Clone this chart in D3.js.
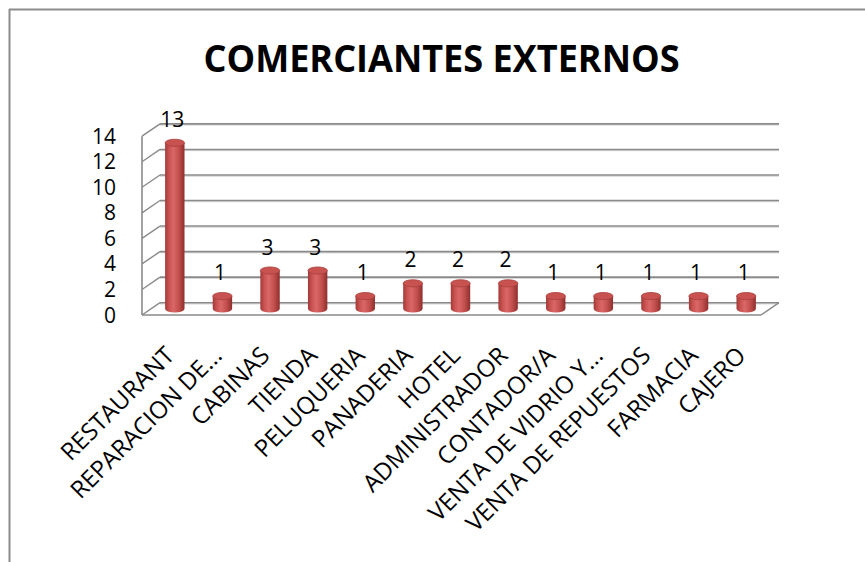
<!DOCTYPE html>
<html>
<head>
<meta charset="utf-8">
<script src="https://cdn.jsdelivr.net/npm/d3@7"></script>
<style>
  html, body { margin: 0; padding: 0; background: #fff; }
  svg { display: block; }
  text { font-family: "Open Sans", Lato, sans-serif; fill: #000; }
</style>
</head>
<body>
<svg id="chart" width="865" height="562"></svg>
<script>
// Chart data
const title = "COMERCIANTES EXTERNOS";
const categories = [
  "RESTAURANT", "REPARACION DE...", "CABINAS", "TIENDA", "PELUQUERIA",
  "PANADERIA", "HOTEL", "ADMINISTRADOR", "CONTADOR/A", "VENTA DE VIDRIO Y...",
  "VENTA DE REPUESTOS", "FARMACIA", "CAJERO"
];
const values = [13, 1, 3, 3, 1, 2, 2, 2, 1, 1, 1, 1, 1];
const yTicks = [0, 2, 4, 6, 8, 10, 12, 14];

const svg = d3.select("#chart");

// Frame (top and left edges of the chart area)
svg.append("line").attr("x1", 9).attr("y1", 9.5).attr("x2", 865).attr("y2", 9.5)
  .attr("stroke", "#8c8c8c").attr("stroke-width", 2);
svg.append("line").attr("x1", 9.5).attr("y1", 9).attr("x2", 9.5).attr("y2", 562)
  .attr("stroke", "#8c8c8c").attr("stroke-width", 2);

// Title
svg.append("text")
  .attr("x", 441.5).attr("y", 72)
  .attr("text-anchor", "middle")
  .attr("font-family", "Lato, 'Open Sans', sans-serif")
  .attr("font-weight", "bold")
  .attr("font-size", 38)
  .attr("textLength", 476)
  .attr("lengthAdjust", "spacingAndGlyphs")
  .text(title);

// 3D geometry: front plane scales plus a depth offset for the back wall
const depthX = 18, depthY = -12.3;
const x = d3.scaleBand().domain(categories).range([142, 761]).padding(0);
const y = d3.scaleLinear().domain([0, 14]).range([315, 136.2]);

const grid = svg.append("g").attr("fill", "none");
const gridColor = "#8a8a8a";

// Back wall gridlines and left wall diagonals
yTicks.forEach(t => {
  const yf = y(t), yb = y(t) + depthY;
  grid.append("line")
    .attr("x1", x.range()[0] + depthX).attr("y1", yb + 1.2)
    .attr("x2", x.range()[1] + depthX).attr("y2", yb + 1.2)
    .attr("stroke", "#d2d2d2").attr("stroke-width", 1);
  grid.append("line")
    .attr("x1", x.range()[0] + depthX).attr("y1", yb)
    .attr("x2", x.range()[1] + depthX).attr("y2", yb)
    .attr("stroke", gridColor).attr("stroke-width", 1.6);
  grid.append("line")
    .attr("x1", x.range()[0]).attr("y1", yf)
    .attr("x2", x.range()[0] + depthX).attr("y2", yb)
    .attr("stroke", gridColor).attr("stroke-width", 1.4);
});

// Vertical axis edge
grid.append("line")
  .attr("x1", x.range()[0]).attr("y1", y(0))
  .attr("x2", x.range()[0]).attr("y2", y(14))
  .attr("stroke", gridColor).attr("stroke-width", 1.6);

// Floor outline (front edge and right side)
grid.append("line")
  .attr("x1", x.range()[0]).attr("y1", y(0))
  .attr("x2", x.range()[1]).attr("y2", y(0))
  .attr("stroke", gridColor).attr("stroke-width", 1.6);
grid.append("line")
  .attr("x1", x.range()[1]).attr("y1", y(0))
  .attr("x2", x.range()[1] + depthX).attr("y2", y(0) + depthY)
  .attr("stroke", gridColor).attr("stroke-width", 1.4);

// Y axis labels
svg.append("g").selectAll("text").data(yTicks).join("text")
  .attr("x", 116)
  .attr("y", d => y(d))
  .attr("dy", "0.36em")
  .attr("text-anchor", "end")
  .attr("font-size", 21)
  .text(d => d);

// Cylinder shading
const defs = svg.append("defs");
const grad = defs.append("linearGradient").attr("id", "cyl")
  .attr("x1", "0%").attr("x2", "100%").attr("y1", "0%").attr("y2", "0%");
[["0%", "#a03a38"], ["20%", "#c95250"], ["42%", "#d96866"], ["70%", "#c4504e"], ["100%", "#8e2f2d"]]
  .forEach(([o, c]) => grad.append("stop").attr("offset", o).attr("stop-color", c));

const rx = 9.7, ry = 3.6;
const cx = d => x(d) + x.bandwidth() / 2 + depthX / 2;
const baseY = y(0) + depthY / 2;
const topY = v => y(v) + depthY / 2;

const bars = svg.append("g").selectAll("g")
  .data(categories.map((c, i) => ({ c, v: values[i] })))
  .join("g");

bars.append("path")
  .attr("fill", "url(#cyl)")
  .attr("d", d => {
    const c = cx(d.c), t = topY(d.v);
    return `M${c - rx},${t} L${c - rx},${baseY} A${rx},${ry} 0 0 0 ${c + rx},${baseY} L${c + rx},${t} Z`;
  });

bars.append("ellipse")
  .attr("cx", d => cx(d.c))
  .attr("cy", d => topY(d.v))
  .attr("rx", rx).attr("ry", ry)
  .attr("fill", "#c8524f")
  .attr("stroke", "#a8403e").attr("stroke-width", 0.8);

// Value labels above each bar
bars.append("text")
  .attr("x", d => cx(d.c) - 2.5)
  .attr("y", d => topY(d.v) - 16)
  .attr("text-anchor", "middle")
  .attr("font-size", 21)
  .text(d => d.v);

// Category labels, rotated
svg.append("g").selectAll("text").data(categories).join("text")
  .attr("text-anchor", "end")
  .attr("font-size", 24)
  .attr("transform", d => `translate(${cx(d) + 1},357) rotate(-45)`)
  .text(d => d);
</script>
</body>
</html>
